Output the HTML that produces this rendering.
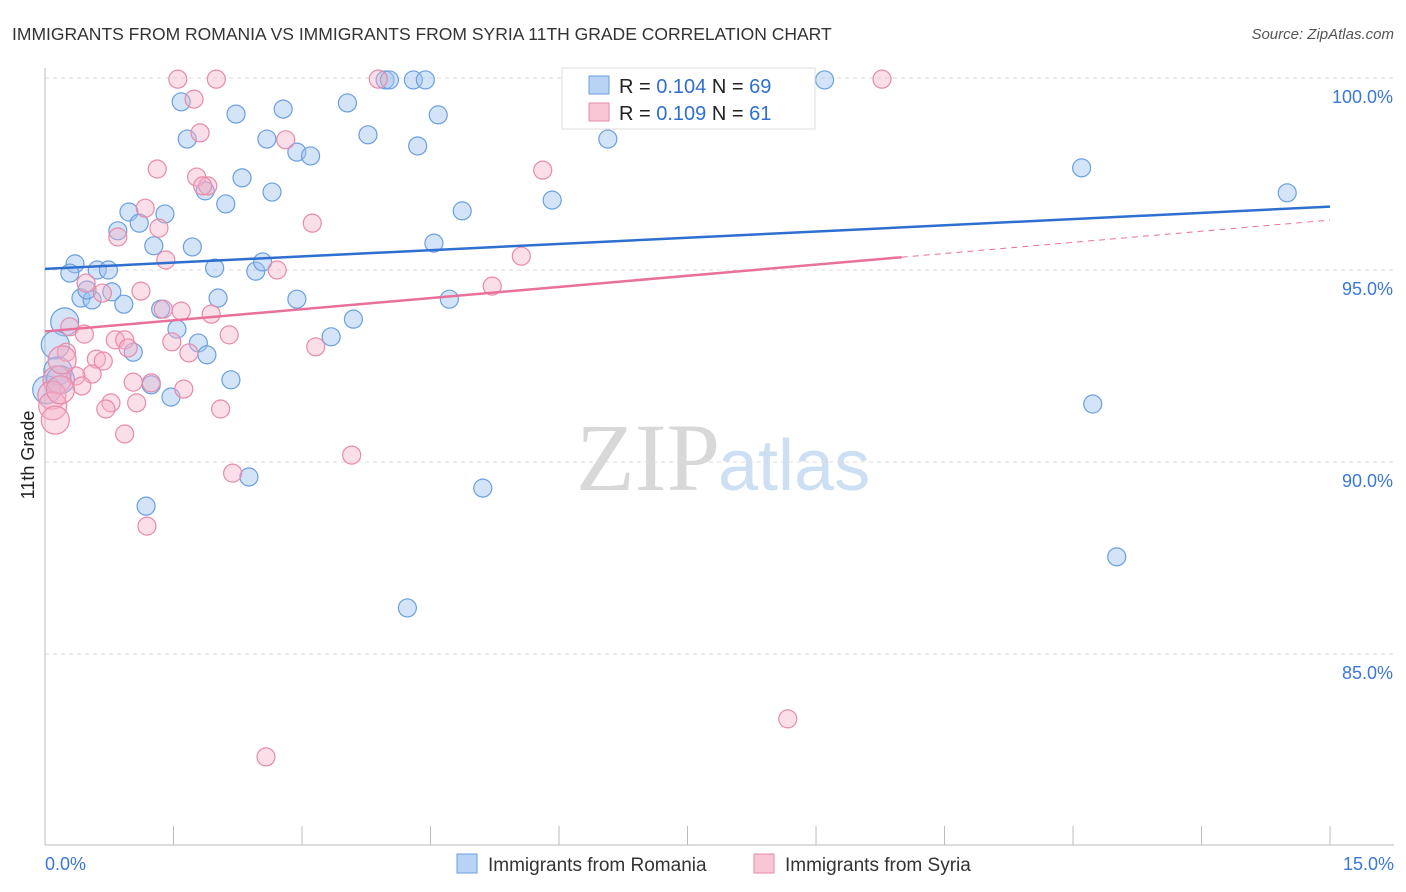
<!DOCTYPE html>
<html><head><meta charset="utf-8"><style>
body{margin:0;background:#fff;font-family:"Liberation Sans",sans-serif;}
svg{display:block}
</style></head><body>
<svg id="chart" width="1406" height="892">
<text x="12" y="40" font-size="17.5" fill="#333">IMMIGRANTS FROM ROMANIA VS IMMIGRANTS FROM SYRIA 11TH GRADE CORRELATION CHART</text>
<text x="1394" y="39" font-size="15" fill="#555" font-style="italic" text-anchor="end">Source: ZipAtlas.com</text>
<text x="720" y="490" font-size="96" fill="#d8d8d8" text-anchor="end" font-family="Liberation Serif">ZIP</text>
<text x="718" y="490" font-size="72" fill="#cddff3">atlas</text>
<text transform="translate(34,455) rotate(-90)" font-size="18" fill="#222" text-anchor="middle">11th Grade</text>
<g id="grid"></g><g id="axes"></g><g id="pts"></g><g id="lines"></g>
<g>
<rect x="562" y="68" width="253" height="61" fill="#fff" stroke="#ddd"/>
<rect x="589" y="76" width="20" height="18" fill="#b9d3f5" stroke="#6a9fe0"/>
<text x="619" y="93" font-size="20" fill="#222">R = <tspan fill="#2f6fd0">0.104</tspan>   N = <tspan fill="#2f6fd0">69</tspan></text>
<rect x="589" y="103" width="20" height="18" fill="#f9c6d6" stroke="#e88aaa"/>
<text x="619" y="120" font-size="20" fill="#222">R = <tspan fill="#2f6fd0">0.109</tspan>   N =  <tspan fill="#2f6fd0">61</tspan></text>
</g>
<g>
<rect x="457" y="854" width="20" height="19" fill="#b9d3f5" stroke="#6a9fe0"/>
<text x="488" y="871" font-size="19" fill="#333">Immigrants from Romania</text>
<rect x="754" y="854" width="20" height="19" fill="#f9c6d6" stroke="#e88aaa"/>
<text x="785" y="871" font-size="19" fill="#333">Immigrants from Syria</text>
</g>
</svg>
<script>
const blueX=[6.35,3.97,4.30,4.44,9.10,4.02,1.59,2.23,2.78,3.53,4.59,1.66,2.59,3.77,4.35,2.94,3.10,6.57,12.10,14.50,2.30,1.87,2.65,2.11,4.87,5.92,0.98,1.40,1.10,0.85,1.27,1.72,4.54,0.35,0.29,0.61,0.74,1.98,2.46,2.54,0.42,0.55,0.78,0.92,0.49,2.02,2.94,4.72,1.35,1.54,0.23,3.60,3.34,0.12,1.79,1.03,1.89,0.15,2.17,1.24,1.47,0.02,12.23,2.38,5.11,1.18,12.51,4.23,0.18];
const blueY=[99.95,99.95,99.95,99.95,99.95,99.95,99.38,99.06,99.19,99.35,99.04,98.41,98.41,98.52,98.23,98.07,97.97,98.41,97.66,97.01,97.40,97.06,97.03,96.72,96.54,96.82,96.51,96.46,96.22,96.02,95.63,95.60,95.70,95.16,94.92,95.00,95.00,95.05,94.97,95.21,94.27,94.22,94.43,94.11,94.48,94.27,94.24,94.24,93.98,93.46,93.65,93.72,93.26,93.05,93.10,92.86,92.79,92.37,92.14,92.01,91.69,91.88,91.51,89.61,89.32,88.85,87.53,86.20,92.14];
const pinkX=[1.55,2.00,3.89,9.77,1.74,1.81,2.81,1.31,5.81,1.77,1.90,1.84,1.17,3.12,1.33,0.85,1.41,2.71,5.56,5.22,1.12,0.67,0.48,1.38,1.59,1.94,2.15,0.29,0.46,0.82,0.93,1.48,0.97,3.16,0.25,1.68,0.60,0.68,0.55,0.36,1.03,1.24,1.62,0.43,0.14,0.08,0.77,1.07,2.05,0.71,0.09,0.12,0.93,3.58,2.19,1.19,8.67,2.58,0.20,0.18];
const pinkY=[99.97,99.97,99.97,99.97,99.45,98.57,98.39,97.63,97.60,97.42,97.19,97.19,96.61,96.22,96.09,95.86,95.26,95.00,95.36,94.58,94.45,94.40,94.66,93.98,93.93,93.85,93.31,93.52,93.33,93.18,93.18,93.13,92.97,93.00,92.86,92.84,92.68,92.63,92.29,92.24,92.08,92.06,91.90,91.98,92.14,91.74,91.54,91.54,91.38,91.38,91.46,91.09,90.73,90.18,89.71,88.33,83.31,82.32,92.66,91.88];
const blueTrend=[95.03,96.65];
const pinkTrend=[93.4,96.3];
const pinkSolidEnd=10.0;
const yTicks=[100,95,90,85];
const yTickLabels=["100.0%","95.0%","90.0%","85.0%"];
const xTickVals=[0,1.5,3,4.5,6,7.5,9,10.5,12,13.5,15];
const xLabels=["0.0%","15.0%"];

const NS="http://www.w3.org/2000/svg";
const sx=v=>45+v*85.67, sy=v=>78+(100-v)*38.4;
function mk(tag,attrs,parent){const e=document.createElementNS(NS,tag);for(const k in attrs)e.setAttribute(k,attrs[k]);parent.appendChild(e);return e;}
const grid=document.getElementById('grid'),axes=document.getElementById('axes'),pts=document.getElementById('pts'),lines=document.getElementById('lines');
yTicks.forEach((t,i)=>{
 const l=mk('line',{x1:45,x2:1394,y1:sy(t),y2:sy(t),stroke:'#ddd','stroke-dasharray':'4,4'},grid);
 
 
 const tx=mk('text',{x:1393,y:sy(t)+25,'font-size':18,fill:'#3b78d4','text-anchor':'end'},axes);
 tx.textContent=yTickLabels[i];
 
 
});
const ax=mk('line',{x1:45,x2:45,y1:68,y2:845,stroke:'#bbb'},axes);


const bx=mk('line',{x1:45,x2:1394,y1:845,y2:845,stroke:'#bbb'},axes);


xTickVals.forEach(v=>{
 const t=mk('line',{x1:sx(v),x2:sx(v),y1:826,y2:845,stroke:'#bbb'},axes);
 
 
});
const xl0=mk('text',{x:45,y:870,'font-size':18,fill:'#3b78d4'},axes);xl0.textContent=xLabels[0];


const xl1=mk('text',{x:1394,y:870,'font-size':18,fill:'#3b78d4','text-anchor':'end'},axes);xl1.textContent=xLabels[1];


function drawPts(X,Y,fill,stroke,name){
 X.forEach((x,i)=>{
  const r=x<0.25?14:9;
  const c=mk('circle',{cx:sx(x),cy:sy(Y[i]),r:r,fill:fill,stroke:stroke,'stroke-width':1.2},pts);
  
  
 });
}
drawPts(blueX,blueY,'rgba(160,196,240,0.45)','#6a9fe0','point-romania');
drawPts(pinkX,pinkY,'rgba(245,175,198,0.4)','#e88aaa','point-syria');
const bl=mk('line',{x1:sx(0),y1:sy(blueTrend[0]),x2:sx(15),y2:sy(blueTrend[1]),stroke:'#2f6fd0','stroke-width':2.5},lines);


const pAt=v=>pinkTrend[0]+(pinkTrend[1]-pinkTrend[0])*v/15;
const pl=mk('line',{x1:sx(0),y1:sy(pAt(0)),x2:sx(pinkSolidEnd),y2:sy(pAt(pinkSolidEnd)),stroke:'#e8709a','stroke-width':2.5},lines);


const pd=mk('line',{x1:sx(pinkSolidEnd),y1:sy(pAt(pinkSolidEnd)),x2:sx(15),y2:sy(pAt(15)),stroke:'#e8709a','stroke-width':1,'stroke-dasharray':'6,5'},lines);


</script>
</body></html>
